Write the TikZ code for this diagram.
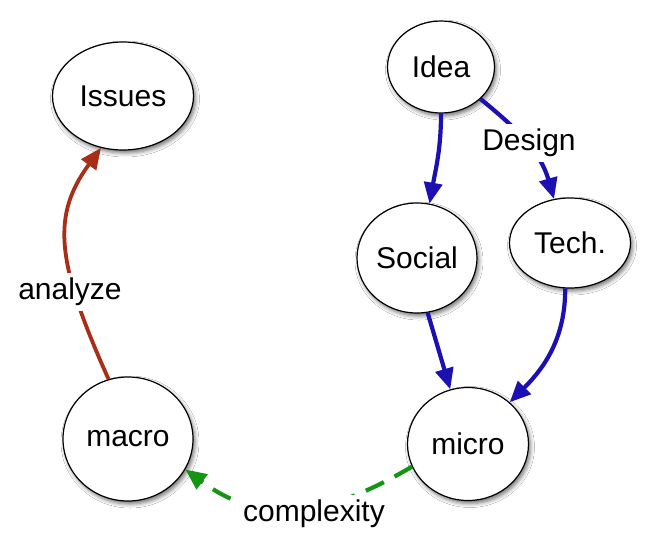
\documentclass[tikz,border=0pt]{standalone}
\usepackage{fontspec}
\setmainfont{Liberation Sans}
\usetikzlibrary{arrows.meta,shapes.geometric,shadows.blur}
\definecolor{myblue}{RGB}{28,16,178}
\definecolor{myred}{RGB}{168,46,24}
\definecolor{mygreen}{RGB}{20,150,20}
\tikzset{
  circ/.style={ellipse, draw=black, line width=1.2pt, fill=white, inner sep=0pt,
    font=\fontsize{30}{33}\selectfont,
    blur shadow={shadow xshift=2pt, shadow yshift=-3pt, shadow blur radius=4pt, shadow opacity=55}},
  lbl/.style={fill=white, inner sep=5pt, font=\fontsize{30}{33}\selectfont},
  bluearrow/.style={draw=myblue, line width=4.2pt, -{Triangle[length=21pt,width=18pt]}},
  redarrow/.style={draw=myred, line width=3.8pt, -{Triangle[length=21pt,width=18pt]}},
  greenarrow/.style={draw=mygreen, line width=4.2pt, dash pattern=on 20pt off 12pt, -{Triangle[length=21pt,width=18pt]}}
}
\begin{document}
\begin{tikzpicture}[x=1pt,y=-1pt]
\useasboundingbox (0,0) rectangle (655,544);
\fill[white] (0,0) rectangle (655,544);
\node[circ, minimum width=141pt, minimum height=108pt] (issues) at (123,96) {Issues};
\node[circ, minimum width=107pt, minimum height=92pt] (idea) at (441,67) {Idea};
\node[circ, minimum width=120pt, minimum height=110pt] (social) at (417,258) {Social};
\node[circ, minimum width=121pt, minimum height=90pt] (tech) at (570,243) {Tech.};
\node[circ, minimum width=121pt, minimum height=113pt] (micro) at (468,444) {micro};
\node[circ, minimum width=130pt, minimum height=124pt] (macro) at (128,439) {macro};

\draw[bluearrow] (idea.south) to[out=-90,in=80] (social.77);
\draw[bluearrow] (idea.-39) to[out=-39,in=106] (tech.110);
\draw[bluearrow] (social.-79) -- (micro.108);
\draw[bluearrow] (tech.-96) to[out=-90,in=45] (micro.45);
\draw[redarrow] (macro.108) .. controls (55,260) and (52,215) .. (issues.-113);
\draw[greenarrow] (micro.-158) .. controls (325,518) and (262,526) .. (macro.-28);

\node[lbl] (design) at (529,143) {Design};
\node[lbl] (analyze) at (70,292) {analyze};
\node[lbl] (complexity) at (314,514) {complexity};
\end{tikzpicture}
\end{document}
